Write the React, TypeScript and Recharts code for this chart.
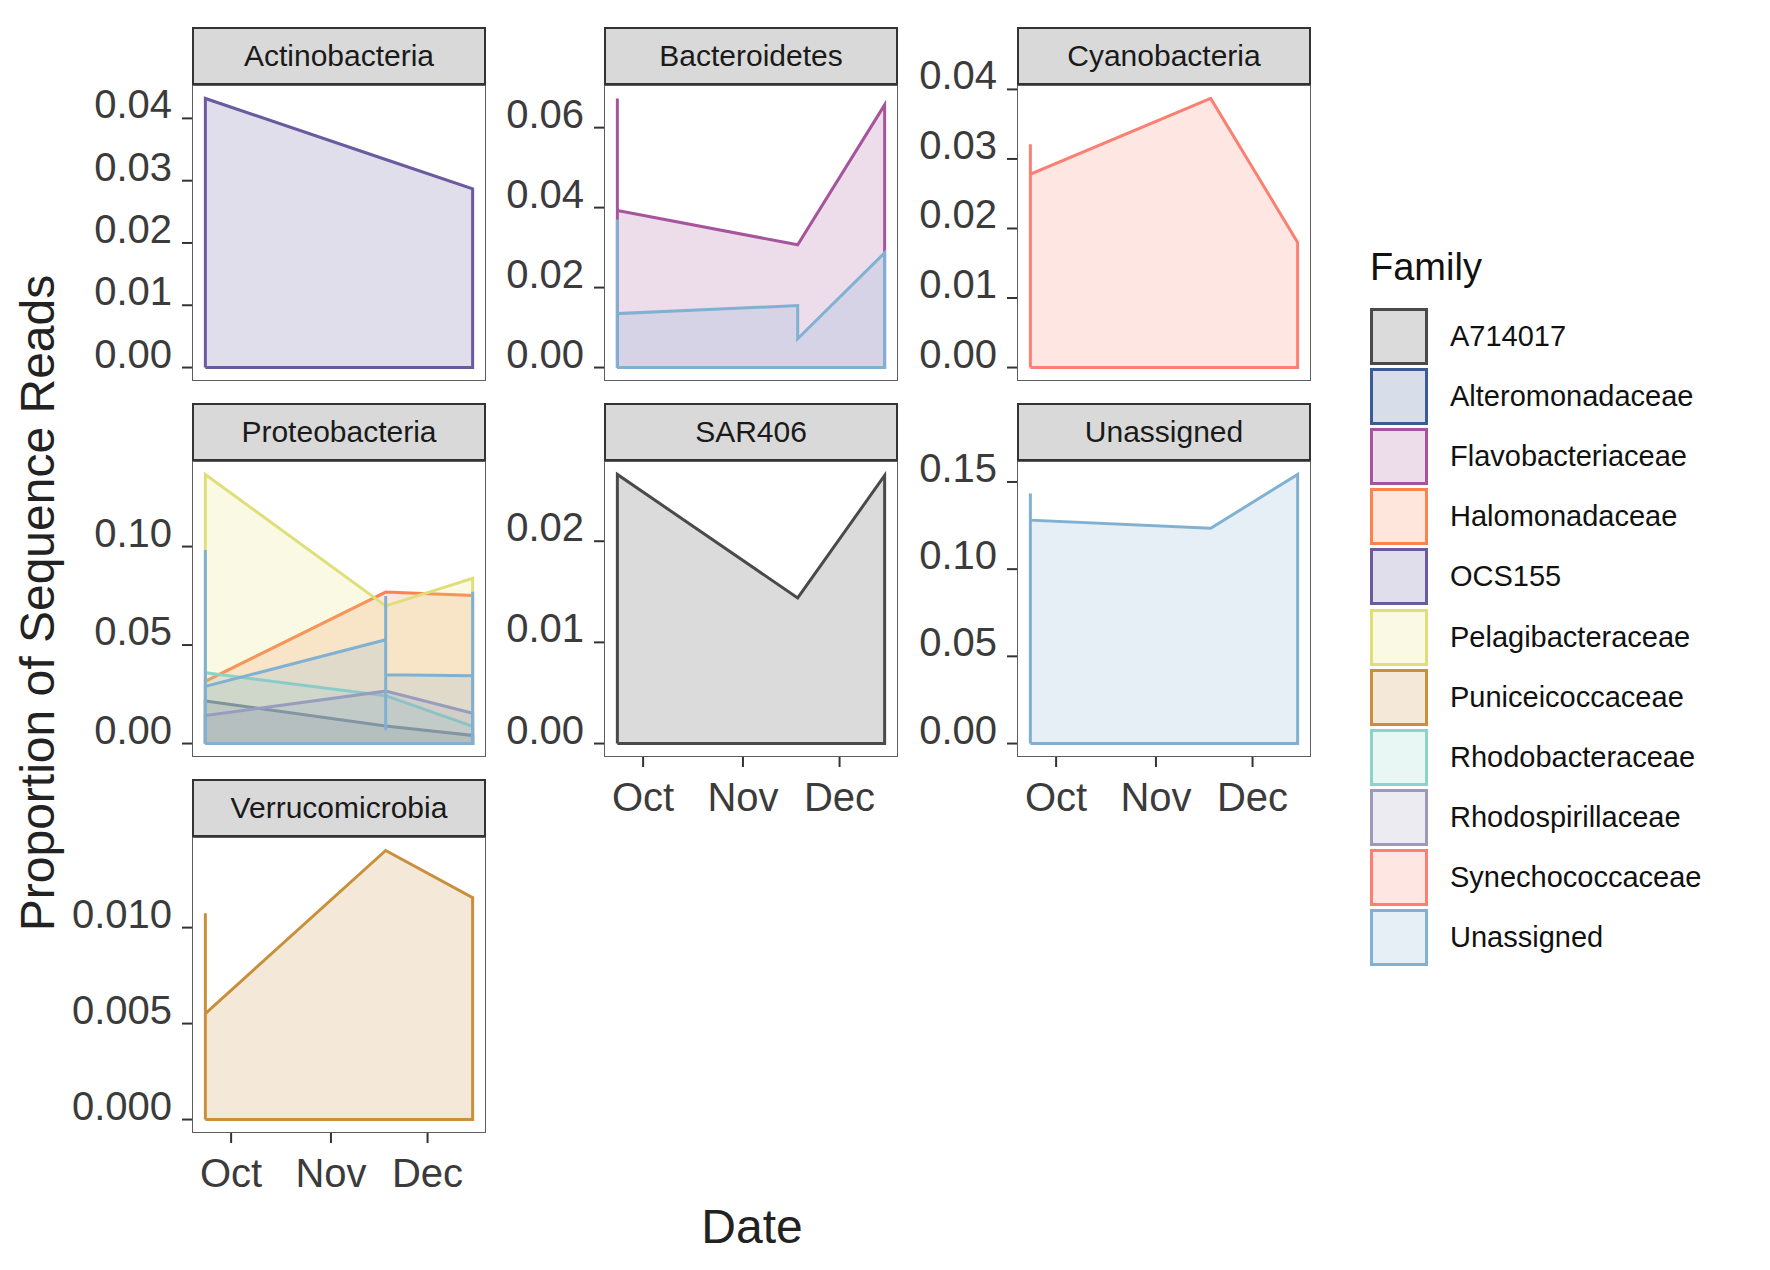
import React from "react";
import { ComposedChart, Area, XAxis, YAxis } from "recharts";

// sampling dates and month ticks
const DATES = ["2015-09-23", "2015-11-18", "2015-12-15"];
const MONTH_TICKS = ["2015-10-01", "2015-11-01", "2015-12-01"];
const MONTH_LABELS = ["Oct", "Nov", "Dec"];

const PHYLA = [
  "Actinobacteria",
  "Bacteroidetes",
  "Cyanobacteria",
  "Proteobacteria",
  "SAR406",
  "Unassigned",
  "Verrucomicrobia",
];

const FAMILIES = [
  "A714017",
  "Alteromonadaceae",
  "Flavobacteriaceae",
  "Halomonadaceae",
  "OCS155",
  "Pelagibacteraceae",
  "Puniceicoccaceae",
  "Rhodobacteraceae",
  "Rhodospirillaceae",
  "Synechococcaceae",
  "Unassigned",
];

const FAMILY_COLORS = [
  "#4a4a4a",
  "#3b5b92",
  "#a6559d",
  "#fc8350",
  "#6a5aa0",
  "#dfdf7a",
  "#c8903a",
  "#8dd3c7",
  "#9d99ba",
  "#fb8072",
  "#80b1d3",
];

// y tick labels, one list per panel
const actinoTicks = ["0.00", "0.01", "0.02", "0.03", "0.04"];
const bacteroTicks = ["0.00", "0.02", "0.04", "0.06"];
const cyanoTicks = ["0.00", "0.01", "0.02", "0.03", "0.04"];
const proteoTicks = ["0.00", "0.05", "0.10"];
const sarTicks = ["0.00", "0.01", "0.02"];
const unassignedTicks = ["0.00", "0.05", "0.10", "0.15"];
const verrucoTicks = ["0.000", "0.005", "0.010"];
const Y_TICKS = [actinoTicks, bacteroTicks, cyanoTicks, proteoTicks, sarTicks, unassignedTicks, verrucoTicks];

// [date index, proportion] in sample order
const actinoOCS155 = [[0, 0.0432], [1, 0.0334], [2, 0.0287]];
const bacteroFlavo = [[0, 0.0673], [0, 0.0393], [1, 0.0307], [2, 0.0657]];
const bacteroUnassigned = [[0, 0.037], [0, 0.0135], [1, 0.0155], [1, 0.0072], [2, 0.0287]];
const cyanoSynecho = [[0, 0.0321], [0, 0.0278], [1, 0.0387], [2, 0.018]];
const proteoAltero = [[0, 0.0216], [1, 0.0089], [2, 0.0041]];
const proteoHalo = [[0, 0.0316], [1, 0.0769], [2, 0.0752]];
const proteoPelagi = [[0, 0.1366], [1, 0.0699], [2, 0.0839]];
const proteoRhodobac = [[0, 0.0359], [1, 0.0243], [2, 0.0088]];
const proteoRhodospir = [[0, 0.0142], [1, 0.0266], [2, 0.0154]];
const proteoUnassigned = [
  [0, 0.0982], [0, 0.029], [1, 0.0527], [1, 0.0749], [1, 0.0067], [1, 0.0349], [2, 0.0344], [2, 0.0771],
];
const sarA714017 = [[0, 0.0266], [1, 0.0144], [2, 0.0265]];
const unassignedUnassigned = [[0, 0.1434], [0, 0.1281], [1, 0.1234], [2, 0.1543]];
const verrucoPunicei = [[0, 0.01075], [0, 0.00552], [1, 0.01402], [2, 0.01156]];

const SERIES = [
  { phylum: "Actinobacteria", family: "OCS155", points: actinoOCS155 },
  { phylum: "Bacteroidetes", family: "Flavobacteriaceae", points: bacteroFlavo },
  { phylum: "Bacteroidetes", family: "Unassigned", points: bacteroUnassigned },
  { phylum: "Cyanobacteria", family: "Synechococcaceae", points: cyanoSynecho },
  { phylum: "Proteobacteria", family: "Alteromonadaceae", points: proteoAltero },
  { phylum: "Proteobacteria", family: "Halomonadaceae", points: proteoHalo },
  { phylum: "Proteobacteria", family: "Pelagibacteraceae", points: proteoPelagi },
  { phylum: "Proteobacteria", family: "Rhodobacteraceae", points: proteoRhodobac },
  { phylum: "Proteobacteria", family: "Rhodospirillaceae", points: proteoRhodospir },
  { phylum: "Proteobacteria", family: "Unassigned", points: proteoUnassigned },
  { phylum: "SAR406", family: "A714017", points: sarA714017 },
  { phylum: "Unassigned", family: "Unassigned", points: unassignedUnassigned },
  { phylum: "Verrucomicrobia", family: "Puniceicoccaceae", points: verrucoPunicei },
];

const FONT = "'Liberation Sans', Arial, Helvetica, sans-serif";

// layout
const COL_LEFT = [192, 604, 1017];
const ROW_TOP = [27, 403, 779];
const PANEL_W = 294;
const STRIP_H = 58;
const PANEL_H = 296;
const Y_AXIS_W = 150;
const X_AXIS_H = 70;
const TOP_PAD = 50; // room for tick labels that sit above the top tick

const toDay = (s: string) =>
  Date.UTC(+s.slice(0, 4), +s.slice(5, 7) - 1, +s.slice(8, 10)) / 86400000;

const dateDays = DATES.map(toDay);
const monthDays = MONTH_TICKS.map(toDay);
const xSpan = dateDays[dateDays.length - 1] - dateDays[0];
const xDomain = [dateDays[0] - 0.05 * xSpan, dateDays[dateDays.length - 1] + 0.05 * xSpan];

// closed outline like ggplot's area polygon (baseline -> values -> baseline)
function outline(points: number[][]) {
  const pts = points.map(([d, v]) => ({ x: dateDays[d], y: v }));
  const first = pts[0].x;
  const last = pts[pts.length - 1].x;
  return [{ x: first, y: 0 }, ...pts, { x: last, y: 0 }, { x: first, y: 0 }];
}

function Panel({ index }: { index: number }) {
  const phylum = PHYLA[index];
  const col = index % 3;
  const row = Math.floor(index / 3);
  const showX = index + 3 >= PHYLA.length;
  const left = COL_LEFT[col];
  const top = ROW_TOP[row];
  const series = SERIES.filter((s) => s.phylum === phylum);
  const maxVal = Math.max(...series.flatMap((s) => s.points.map((p) => p[1])));
  const labels = Y_TICKS[index];
  const yTicks = labels.map((l) => parseFloat(l));

  const yTick = (props: any) => {
    const { x, y, payload } = props;
    const i = yTicks.indexOf(payload.value);
    return (
      <text x={x} y={y} textAnchor="end" fontSize={40} fill="#3b3b3b" fontFamily={FONT}>
        {labels[i]}
      </text>
    );
  };
  const xTick = (props: any) => {
    const { x, y, payload } = props;
    const i = monthDays.indexOf(payload.value);
    return (
      <text x={x} y={y} dy="0.72em" textAnchor="middle" fontSize={40} fill="#3b3b3b" fontFamily={FONT}>
        {MONTH_LABELS[i]}
      </text>
    );
  };

  return (
    <>
      <div
        style={{
          position: "absolute",
          left,
          top,
          width: PANEL_W,
          height: STRIP_H,
          boxSizing: "border-box",
          background: "#d9d9d9",
          border: "2px solid #333",
          fontFamily: FONT,
          fontSize: 30,
          color: "#1a1a1a",
          display: "flex",
          alignItems: "center",
          justifyContent: "center",
        }}
      >
        {phylum}
      </div>
      <div style={{ position: "absolute", left: left - Y_AXIS_W, top: top + STRIP_H - TOP_PAD }}>
        <ComposedChart
          width={Y_AXIS_W + PANEL_W}
          height={TOP_PAD + PANEL_H + (showX ? X_AXIS_H : 0)}
          margin={{ top: TOP_PAD, right: 0, bottom: 0, left: 0 }}
        >
          <XAxis
            dataKey="x"
            type="number"
            domain={xDomain}
            allowDataOverflow
            ticks={monthDays}
            interval={0}
            hide={!showX}
            height={X_AXIS_H}
            axisLine={false}
            tickSize={10}
            tickMargin={15}
            tickLine={{ stroke: "#333", strokeWidth: 2 }}
            tick={xTick}
          />
          <YAxis
            type="number"
            domain={[-0.05 * maxVal, 1.05 * maxVal]}
            allowDataOverflow
            ticks={yTicks}
            interval={0}
            width={Y_AXIS_W}
            axisLine={false}
            tickSize={10}
            tickMargin={10}
            tickLine={{ stroke: "#333", strokeWidth: 2 }}
            tick={yTick}
          />
          {series.map((s) => {
            const color = FAMILY_COLORS[FAMILIES.indexOf(s.family)];
            return (
              <Area
                key={s.family}
                data={outline(s.points)}
                dataKey="y"
                type="linear"
                baseValue={0}
                stroke={color}
                strokeWidth={3}
                fill={color}
                fillOpacity={0.2}
                dot={false}
                activeDot={false}
                isAnimationActive={false}
              />
            );
          })}
        </ComposedChart>
      </div>
      <div
        style={{
          position: "absolute",
          left,
          top: top + STRIP_H,
          width: PANEL_W,
          height: PANEL_H,
          boxSizing: "border-box",
          border: "1.5px solid #5e5e5e",
          pointerEvents: "none",
        }}
      />
    </>
  );
}

function FamilyLegend() {
  return (
    <div style={{ position: "absolute", left: 1370, top: 0, fontFamily: FONT }}>
      <div style={{ position: "absolute", left: 0, top: 246, fontSize: 38, color: "#111", whiteSpace: "nowrap" }}>
        Family
      </div>
      {FAMILIES.map((f, i) => (
        <div key={f} style={{ position: "absolute", left: 0, top: 308 + i * 60.1, height: 57, display: "flex", alignItems: "center" }}>
          <div style={{ width: 58, height: 57, boxSizing: "border-box", border: `3px solid ${FAMILY_COLORS[i]}`, position: "relative" }}>
            <div style={{ position: "absolute", inset: 0, background: FAMILY_COLORS[i], opacity: 0.2 }} />
          </div>
          <div style={{ marginLeft: 22, fontSize: 29, color: "#111", whiteSpace: "nowrap" }}>{f}</div>
        </div>
      ))}
    </div>
  );
}

export default function App() {
  return (
    <div style={{ position: "absolute", left: 0, top: 0, width: 1770, height: 1270, background: "#fff", overflow: "hidden" }}>
      <svg width={1770} height={1270} style={{ position: "absolute", left: 0, top: 0 }}>
        <text x={54} y={603} transform="rotate(-90 54 603)" textAnchor="middle" fontSize={48} fill="#222" fontFamily={FONT}>
          Proportion of Sequence Reads
        </text>
        <text x={752} y={1243} textAnchor="middle" fontSize={48} fill="#222" fontFamily={FONT}>
          Date
        </text>
      </svg>
      {PHYLA.map((p, i) => (
        <Panel key={p} index={i} />
      ))}
      <FamilyLegend />
    </div>
  );
}
